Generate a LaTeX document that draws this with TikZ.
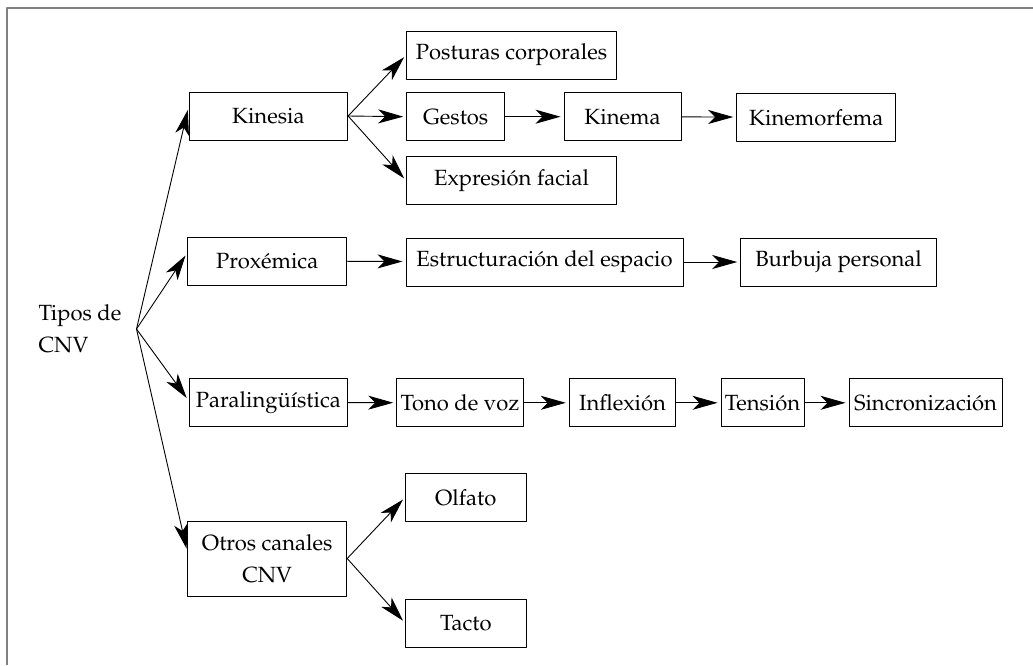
\documentclass[tikz,border=0pt]{standalone}
\usepackage[T1]{fontenc}
\usepackage{mathpazo}
\usetikzlibrary{arrows.meta}
\tikzset{caja/.style={draw, line width=.5pt, minimum height=24pt, inner sep=1pt},
	flecha/.style={->, line width=.45pt, shorten >=1.5pt}}
\begin{document}
\begin{tikzpicture}[x=.5pt,y=-.5pt,font=\fontsize{11}{16}\selectfont, line join=round, >={Stealth[length=12.5pt,width=7pt,inset=3.5pt]}]
	\useasboundingbox (0,0) rectangle (1033,665);
	\draw[gray, line width=1pt] (7,665) -- (7,8) -- (1033,8);
	% Tipos de CNV
	\node[align=left] (tipos) at (80,329) {Tipos de\\CNV};
	\coordinate (origen) at (136.5,329);
	\node[caja, minimum width=79.3pt] (kinesia) at (268.3,116) {Kinesia};
	\node[caja, minimum width=79.5pt] (proxemica) at (267.2,261) {Proxémica};
	\node[caja, minimum width=79.3pt] (paraling) at (268.3,402.5) {Paralingüística};
	\node[caja, minimum width=79.5pt, minimum height=37.5pt, align=center] (otros) at (267.2,558.5) {Otros canales\\CNV};
	% Kinesia
	\node[caja, minimum width=104.8pt] (posturas) at (511.5,55) {Posturas corporales};
	\node[caja, minimum width=49pt] (gestos) at (455.7,116.7) {Gestos};
	\node[caja, minimum width=58.5pt] (kinema) at (622.5,116.7) {Kinema};
	\node[caja, minimum width=79.5pt] (kinemorfema) at (816.2,117.3) {Kinemorfema};
	\node[caja, minimum width=104.8pt] (expresion) at (511.5,180.7) {Expresión facial};
	% Proxemica
	\node[caja, minimum width=138.5pt] (espacio) at (544.5,262) {Estructuración del espacio};
	\node[caja, minimum width=97.8pt] (burbuja) at (838.5,262) {Burbuja personal};
	% Paralinguistica
	\node[caja, minimum width=63.3pt] (tono) at (460,402.8) {Tono de voz};
	\node[caja, minimum width=53.2pt] (inflexion) at (622.5,402.8) {Inflexión};
	\node[caja, minimum width=41.5pt] (tension) at (762.5,402.8) {Tensión};
	\node[caja, minimum width=76.5pt] (sincro) at (925.5,402.8) {Sincronización};
	% Otros canales
	\node[caja, minimum width=60.2pt] (olfato) at (465.8,497.3) {Olfato};
	\node[caja, minimum width=60.2pt] (tacto) at (465.8,623) {Tacto};
	% flechas
	\draw[flecha] (origen) -- ([yshift=4.5pt]kinesia.west);
	\draw[flecha] (origen) -- ([yshift=4pt]proxemica.west);
	\draw[flecha] (origen) -- ([yshift=1pt]paraling.west);
	\draw[flecha] (origen) -- ([yshift=3.5pt]otros.west);
	\foreach \n in {posturas,gestos,expresion}
		\draw[flecha] (kinesia.east) -- (\n.west);
	\foreach \n in {olfato,tacto}
		\draw[flecha] (otros.east) -- (\n.west);
	\draw[flecha] (gestos) -- (kinema);
	\draw[flecha] (kinema) -- (kinemorfema);
	\draw[flecha] (proxemica) -- (espacio);
	\draw[flecha] (espacio) -- (burbuja);
	\draw[flecha] (paraling) -- (tono);
	\draw[flecha] (tono) -- (inflexion);
	\draw[flecha] (inflexion) -- (tension);
	\draw[flecha] (tension) -- (sincro);
\end{tikzpicture}
\end{document}
